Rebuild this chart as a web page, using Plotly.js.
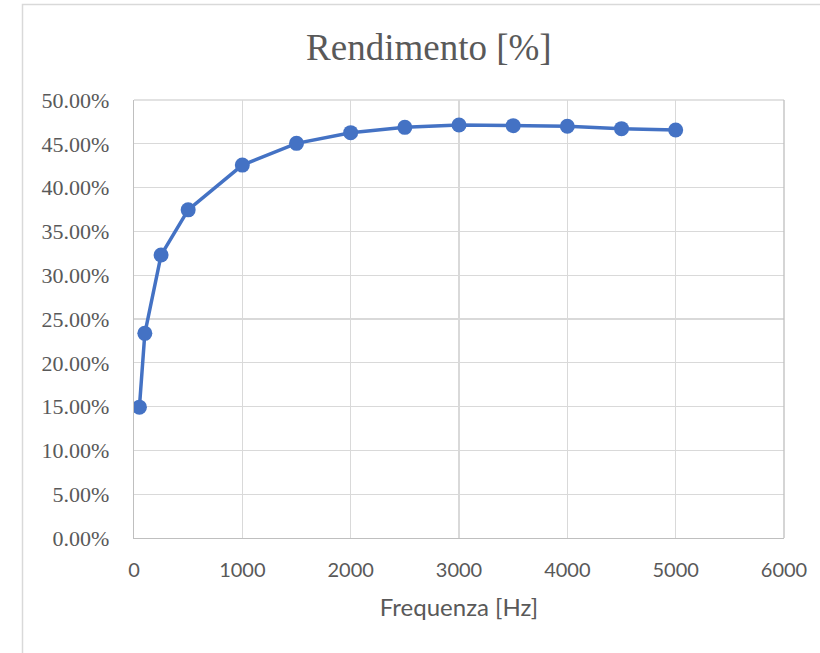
<!DOCTYPE html>
<html>
<head>
<meta charset="utf-8">
<script src="https://cdn.plot.ly/plotly-3.0.1.min.js"></script>
<style>
  html, body { margin: 0; padding: 0; background: #ffffff; }
  #chart { width: 820px; height: 653px; }
</style>
</head>
<body>
<div id="chart"></div>
<script>
// Frequency sweep (Hz) and measured efficiency (fraction)
const frequenze = [50, 100, 250, 500, 1000, 1500, 2000, 2500, 3000, 3500, 4000, 4500, 5000];
const rendimento = [0.1494, 0.2336, 0.3230, 0.3746, 0.4257, 0.4505, 0.4627, 0.4688, 0.4715, 0.4707, 0.4700, 0.4673, 0.4658];

const titoloGrafico = 'Rendimento [%]';
const titoloAsseX = 'Frequenza [Hz]';

const blu = '#4472C4';
const grigioTesto = '#595959';
const grigioGriglia = '#D9D9D9';
const grigioAsse = '#BFBFBF';

const trace = {
  x: frequenze,
  y: rendimento,
  type: 'scatter',
  mode: 'lines+markers',
  line: { color: blu, width: 3.5 },
  marker: { color: blu, size: 15 },
  hoverinfo: 'x+y'
};

const layout = {
  width: 820,
  height: 653,
  paper_bgcolor: '#ffffff',
  plot_bgcolor: '#ffffff',
  margin: { l: 134, r: 36, t: 100, b: 115 },
  showlegend: false,
  title: {
    text: titoloGrafico,
    font: { family: '"Liberation Serif", "Times New Roman", serif', size: 37, color: grigioTesto },
    xref: 'container', x: 0.523, xanchor: 'center',
    yref: 'container', y: 1 - 47 / 653, yanchor: 'middle'
  },
  xaxis: {
    range: [0, 6000],
    dtick: 1000,
    tick0: 0,
    showgrid: true,
    gridcolor: grigioGriglia,
    gridwidth: 1.3,
    zeroline: false,
    showline: true,
    linecolor: grigioAsse,
    linewidth: 1.3,
    ticks: 'outside',
    ticklen: 14,
    tickcolor: 'rgba(0,0,0,0)',
    tickfont: { family: 'Lato, "Open Sans", sans-serif', size: 20, color: grigioTesto },
    title: {
      text: titoloAsseX,
      font: { family: 'Lato, "Open Sans", sans-serif', size: 24, color: grigioTesto },
      standoff: 19
    }
  },
  yaxis: {
    range: [0, 0.5],
    dtick: 0.05,
    tick0: 0,
    tickformat: '.2%',
    showgrid: true,
    gridcolor: grigioGriglia,
    gridwidth: 1.3,
    zeroline: false,
    showline: true,
    linecolor: grigioAsse,
    linewidth: 1.3,
    ticks: 'outside',
    ticklen: 19,
    tickcolor: 'rgba(0,0,0,0)',
    tickfont: { family: '"Liberation Serif", "Times New Roman", serif', size: 22, color: grigioTesto }
  },
  shapes: [
    // Light chart-area frame
    {
      type: 'rect', xref: 'paper', yref: 'paper', layer: 'below',
      x0: (22.5 - 134) / 650, x1: (830 - 134) / 650,
      y0: (538 - 665) / 438, y1: (538 - 4.5) / 438,
      line: { color: grigioGriglia, width: 1.5 },
      fillcolor: 'rgba(0,0,0,0)'
    },
    // Top and right edges of the plotting area
    {
      type: 'line', xref: 'paper', yref: 'paper',
      x0: 0, x1: 1, y0: 1, y1: 1,
      line: { color: grigioGriglia, width: 1.3 }
    },
    {
      type: 'line', xref: 'paper', yref: 'paper',
      x0: 1, x1: 1, y0: 0, y1: 1,
      line: { color: grigioAsse, width: 1.3 }
    }
  ]
};

Plotly.newPlot('chart', [trace], layout, { displayModeBar: false, staticPlot: true });
</script>
</body>
</html>
